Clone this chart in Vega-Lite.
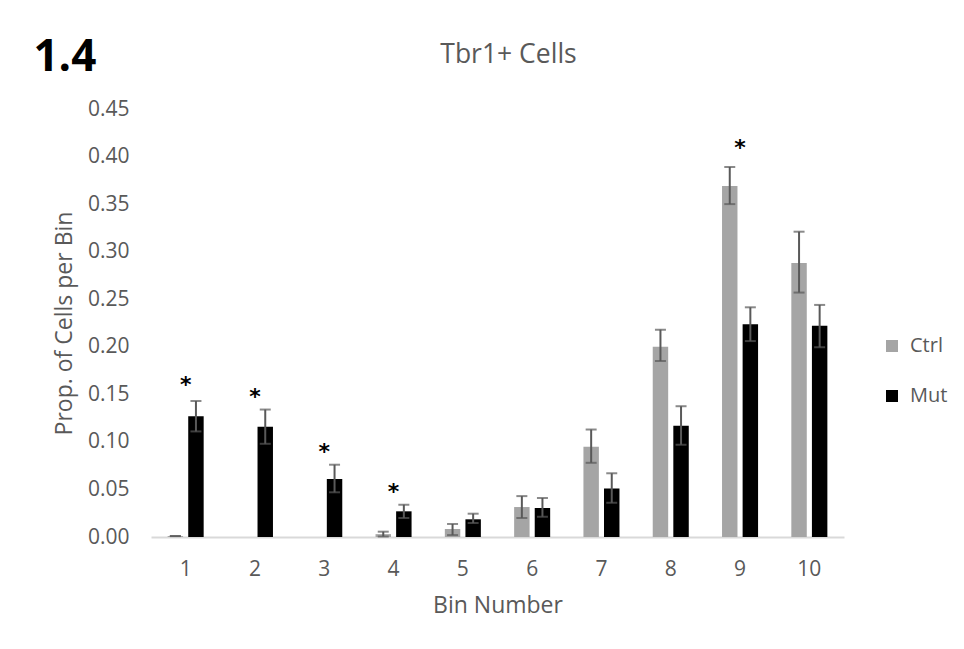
{
  "$schema": "https://vega.github.io/schema/vega-lite/v6.json",
  "background": "white",
  "padding": {"left": 33, "top": 35, "right": 10, "bottom": 20},
  "title": {
    "text": "1.4",
    "anchor": "start",
    "frame": "bounds",
    "font": "Open Sans",
    "fontSize": 44,
    "fontWeight": "bold",
    "color": "#000000",
    "offset": 0,
    "dx": -20,
    "dy": 38
  },
  "datasets": {
    "bars": [
      {"bin": "1", "group": "Ctrl", "value": 0.001, "lo": 0.001, "hi": 0.001},
      {"bin": "1", "group": "Mut", "value": 0.127, "lo": 0.111, "hi": 0.143},
      {"bin": "2", "group": "Ctrl", "value": 0.0, "lo": null, "hi": null},
      {"bin": "2", "group": "Mut", "value": 0.116, "lo": 0.098, "hi": 0.134},
      {"bin": "3", "group": "Ctrl", "value": 0.0, "lo": null, "hi": null},
      {"bin": "3", "group": "Mut", "value": 0.061, "lo": 0.047, "hi": 0.076},
      {"bin": "4", "group": "Ctrl", "value": 0.003, "lo": 0.0005, "hi": 0.0056},
      {"bin": "4", "group": "Mut", "value": 0.027, "lo": 0.020, "hi": 0.034},
      {"bin": "5", "group": "Ctrl", "value": 0.0084, "lo": 0.002, "hi": 0.0137},
      {"bin": "5", "group": "Mut", "value": 0.0186, "lo": 0.0147, "hi": 0.0245},
      {"bin": "6", "group": "Ctrl", "value": 0.0315, "lo": 0.020, "hi": 0.043},
      {"bin": "6", "group": "Mut", "value": 0.0305, "lo": 0.0213, "hi": 0.041},
      {"bin": "7", "group": "Ctrl", "value": 0.095, "lo": 0.078, "hi": 0.113},
      {"bin": "7", "group": "Mut", "value": 0.051, "lo": 0.036, "hi": 0.067},
      {"bin": "8", "group": "Ctrl", "value": 0.200, "lo": 0.185, "hi": 0.218},
      {"bin": "8", "group": "Mut", "value": 0.117, "lo": 0.097, "hi": 0.1375},
      {"bin": "9", "group": "Ctrl", "value": 0.369, "lo": 0.350, "hi": 0.389},
      {"bin": "9", "group": "Mut", "value": 0.2236, "lo": 0.206, "hi": 0.2415},
      {"bin": "10", "group": "Ctrl", "value": 0.288, "lo": 0.257, "hi": 0.321},
      {"bin": "10", "group": "Mut", "value": 0.222, "lo": 0.1995, "hi": 0.244}
    ],
    "stars": [
      {"bin": "1", "y": 0.164, "label": "*"},
      {"bin": "2", "y": 0.151, "label": "*"},
      {"bin": "3", "y": 0.094, "label": "*"},
      {"bin": "4", "y": 0.0515, "label": "*"},
      {"bin": "9", "y": 0.413, "label": "*"}
    ]
  },
  "vconcat": [
    {
      "width": 693,
      "height": 428,
      "title": {
        "text": "Tbr1+ Cells",
        "font": "Open Sans",
        "fontSize": 26.5,
        "fontWeight": "normal",
        "color": "#595959",
        "anchor": "middle",
        "dx": 11,
        "offset": 30
      },
      "encoding": {
        "x": {
          "field": "bin",
          "type": "ordinal",
          "sort": ["1", "2", "3", "4", "5", "6", "7", "8", "9", "10"],
          "scale": {"paddingInner": 0.48, "paddingOuter": 0.24},
          "axis": {
            "title": "Bin Number",
            "labelAngle": 0,
            "domain": true,
            "domainColor": "#d9d9d9",
            "domainWidth": 2,
            "ticks": false,
            "grid": false,
            "labelPadding": 21,
            "titlePadding": 15
          }
        }
      },
      "layer": [
        {
          "data": {"name": "bars"},
          "mark": {"type": "bar"},
          "encoding": {
            "xOffset": {"field": "group", "type": "nominal", "sort": ["Ctrl", "Mut"], "scale": {"paddingInner": 0.25, "paddingOuter": 0}},
            "y": {
              "field": "value",
              "type": "quantitative",
              "scale": {"domain": [0, 0.45], "nice": false},
              "axis": {
                "title": "Prop. of Cells per Bin",
                "values": [0, 0.05, 0.1, 0.15, 0.2, 0.25, 0.3, 0.35, 0.4, 0.45],
                "format": ".2f",
                "domain": false,
                "ticks": false,
                "grid": false,
                "labelPadding": 22,
                "titlePadding": 11
              }
            },
            "color": {
              "field": "group",
              "type": "nominal",
              "sort": ["Ctrl", "Mut"],
              "scale": {"domain": ["Ctrl", "Mut"], "range": ["#a5a5a5", "#000000"]},
              "legend": {
                "title": null,
                "orient": "none",
                "legendX": 731,
                "legendY": 227,
                "padding": 0,
                "symbolType": "square",
                "symbolSize": 144,
                "symbolStrokeWidth": 0,
                "labelFontSize": 20,
                "labelFont": "Open Sans",
                "labelColor": "#595959",
                "labelOffset": 8,
                "rowPadding": 30
              }
            }
          }
        },
        {
          "data": {"name": "bars"},
          "mark": {"type": "rule", "color": "#595959", "strokeWidth": 2},
          "encoding": {
            "xOffset": {"field": "group", "type": "nominal", "sort": ["Ctrl", "Mut"]},
            "y": {"field": "lo", "type": "quantitative"},
            "y2": {"field": "hi"}
          }
        },
        {
          "data": {"name": "bars"},
          "mark": {"type": "tick", "color": "#595959", "size": 11, "thickness": 2},
          "encoding": {
            "xOffset": {"field": "group", "type": "nominal", "sort": ["Ctrl", "Mut"]},
            "y": {"field": "lo", "type": "quantitative"}
          }
        },
        {
          "data": {"name": "bars"},
          "mark": {"type": "tick", "color": "#595959", "size": 11, "thickness": 2},
          "encoding": {
            "xOffset": {"field": "group", "type": "nominal", "sort": ["Ctrl", "Mut"]},
            "y": {"field": "hi", "type": "quantitative"}
          }
        },
        {
          "data": {"name": "stars"},
          "mark": {"type": "text", "font": "DejaVu Sans", "fontSize": 22, "fontWeight": "bold", "baseline": "middle", "color": "#000000", "dy": 4},
          "encoding": {
            "y": {"field": "y", "type": "quantitative"},
            "text": {"field": "label"}
          }
        }
      ]
    }
  ],
  "config": {
    "view": {"stroke": null},
    "font": "Open Sans",
    "axis": {
      "labelFont": "Open Sans",
      "labelFontSize": 21,
      "labelColor": "#595959",
      "titleFont": "Open Sans",
      "titleFontSize": 23,
      "titleFontWeight": "normal",
      "titleColor": "#595959"
    }
  }
}
